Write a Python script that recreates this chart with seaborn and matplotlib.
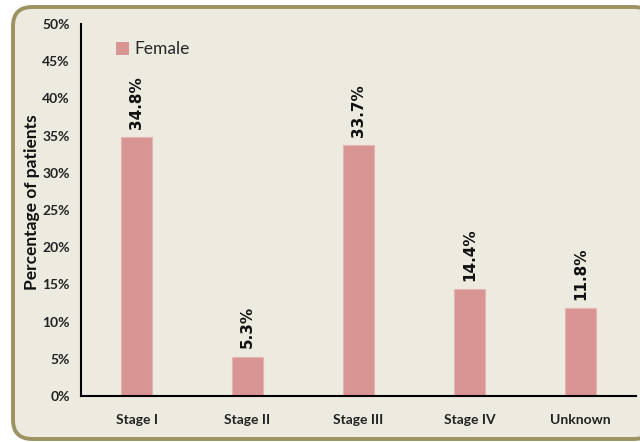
import matplotlib
matplotlib.use("Agg")
import matplotlib.pyplot as plt
from matplotlib.patches import FancyBboxPatch, Patch
from matplotlib.ticker import PercentFormatter, MultipleLocator
import seaborn as sns
import pandas as pd

stages = ["Stage I", "Stage II", "Stage III", "Stage IV", "Unknown"]
female_pct = [34.8, 5.3, 33.7, 14.4, 11.8]
series_name = "Female"

sns.set_style("white")
plt.rcParams["font.family"] = ["Lato", "DejaVu Sans"]

bar_color = "#D99594"
panel_color = "#EDEADF"
frame_color = "#9C9262"

df = pd.DataFrame({"stage": stages, "pct": female_pct})

fig = plt.figure(figsize=(6.4, 4.42), dpi=100)
fig.patch.set_facecolor("white")

# rounded chart panel behind the axes
panel = FancyBboxPatch((13 / 640, 3 / 442), 640 / 640, 432 / 442,
                       boxstyle="round,pad=0,rounding_size=0.03",
                       transform=fig.transFigure, facecolor=panel_color,
                       edgecolor=frame_color, linewidth=2.8, zorder=-5,
                       mutation_aspect=640 / 442)
fig.patches.append(panel)

ax = fig.add_axes([81 / 640, 46 / 442, 555 / 640, 372 / 442])
ax.set_facecolor("none")
ax.set_zorder(2)

sns.barplot(data=df, x="stage", y="pct", color=bar_color, width=0.28,
            saturation=1, ax=ax, edgecolor="#E6B4B2", linewidth=0.8)

ax.set_xlim(-0.5, len(stages) - 0.5)
ax.set_ylim(0, 50)
ax.yaxis.set_major_locator(MultipleLocator(5))
ax.yaxis.set_major_formatter(PercentFormatter(decimals=0))

for side in ["top", "right"]:
    ax.spines[side].set_visible(False)
for side in ["left", "bottom"]:
    ax.spines[side].set_color("black")
    ax.spines[side].set_linewidth(1.5)

# category boundary ticks on x, outward ticks on y
ax.set_xticks(range(len(stages)))
ax.set_xticklabels(stages, fontsize=10, fontweight="bold", color="#222222")
ax.tick_params(axis="x", length=0, pad=13)
ax.set_xticks([i - 0.5 for i in range(len(stages) + 1)], minor=True)
ax.tick_params(axis="x", which="minor", length=5, width=1.5, direction="out",
               color="black")
ax.tick_params(axis="y", length=5, width=1.5, direction="out", color="black",
               labelsize=10, pad=3)
for lab in ax.get_yticklabels():
    lab.set_fontweight("bold")
    lab.set_color("#222222")

ax.set_xlabel("")
ax.set_ylabel("Percentage of patients", fontsize=12.5, fontweight="bold",
              color="#111111")
ax.yaxis.set_label_coords(-0.074, 0.52)

# value labels above each bar
for i, v in enumerate(female_pct):
    ax.annotate(f"{v}%", xy=(i, v), xytext=(0, 6), textcoords="offset points",
                rotation=90, ha="center", va="bottom", fontsize=11,
                fontweight="bold", family="DejaVu Sans", color="#111111")

ax.legend(handles=[Patch(facecolor=bar_color, edgecolor="none", label=series_name)],
          loc="upper left", bbox_to_anchor=(0.035, 0.995), frameon=False,
          fontsize=12.5, handlelength=0.75, handleheight=0.75, handletextpad=0.3)

fig.savefig("out.png", dpi=100)
